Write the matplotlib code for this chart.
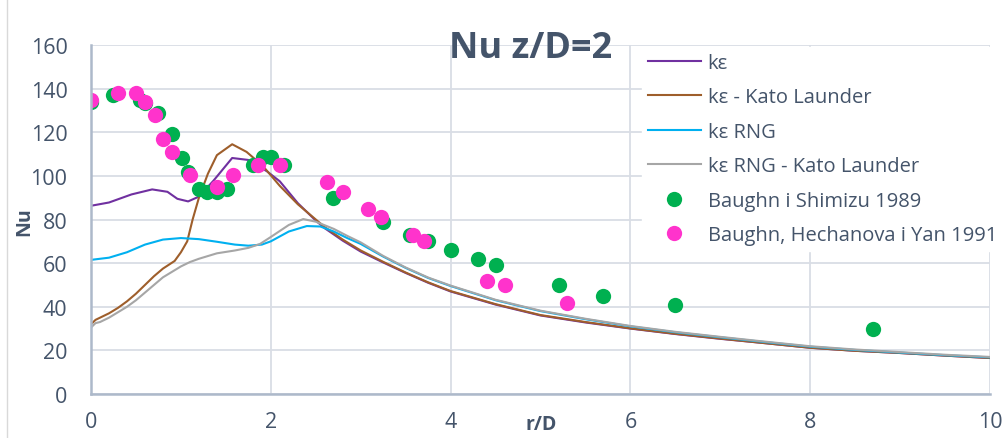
import matplotlib
matplotlib.use('Agg')
import matplotlib.pyplot as plt
from matplotlib.lines import Line2D

plt.rcParams['font.family'] = ['Open Sans', 'DejaVu Sans']

TXT = '#44546A'

# kε
x_ke = [0, 0.2, 0.45, 0.68, 0.85, 0.96, 1.08, 1.2, 1.36, 1.57, 1.75, 1.96, 2.1, 2.3, 2.5,
        2.6, 2.8, 3.0, 3.25, 3.5, 3.75, 4.0, 4.5, 5.0, 5.5, 6.0, 6.5, 7.0, 7.5, 8.0, 8.5, 9.0, 9.5, 10.0]
y_ke = [86.3, 87.8, 91.5, 93.8, 92.7, 89.5, 88.3, 90.5, 97.7, 108.2, 107.3, 102.0, 97.5, 87.5, 79.5,
        76.0, 70.3, 65.3, 60.3, 55.5, 51.0, 47.0, 41.0, 36.0, 32.8, 30.0, 27.5, 25.3, 23.3, 21.2, 19.8, 18.8, 17.6, 16.5]

# kε - Kato Launder
x_kl = [0, 0.05, 0.1, 0.2, 0.3, 0.4, 0.5, 0.6, 0.7, 0.8, 0.93, 1.0, 1.07, 1.13, 1.2, 1.3, 1.4, 1.57,
        1.73, 1.91, 2.1, 2.3, 2.5, 2.6, 2.8, 3.0, 3.25, 3.5, 3.75, 4.0, 4.5, 5.0, 5.5, 6.0, 6.5, 7.0,
        7.5, 8.0, 8.5, 9.0, 9.5, 10.0]
y_kl = [32.0, 34.0, 35.0, 37.0, 39.5, 42.5, 46.0, 50.0, 54.0, 57.5, 61.0, 65.0, 70.0, 80.0, 90.0,
        101.0, 109.5, 114.5, 111.0, 104.6, 95.4, 87.0, 80.0, 76.5, 70.8, 65.8, 60.6, 55.7, 51.2, 47.2,
        41.2, 36.2, 33.0, 30.1, 27.6, 25.4, 23.3, 21.2, 19.8, 18.8, 17.6, 16.5]

# kε RNG
x_rng = [0, 0.2, 0.4, 0.6, 0.8, 1.0, 1.2, 1.4, 1.6, 1.75, 1.9, 2.0, 2.2, 2.4, 2.55, 2.7, 2.85, 3.0,
         3.25, 3.5, 3.75, 4.0, 4.5, 5.0, 5.5, 6.0, 6.5, 7.0, 7.5, 8.0, 8.5, 9.0, 9.5, 10.0]
y_rng = [61.5, 62.5, 65.0, 68.5, 70.8, 71.5, 71.0, 69.8, 68.5, 68.0, 68.5, 70.0, 74.5, 77.0, 76.8,
         74.5, 71.5, 68.8, 63.0, 57.8, 53.2, 49.5, 43.0, 38.0, 34.3, 31.0, 28.3, 26.0, 23.8, 21.7,
         20.2, 19.0, 17.8, 16.8]

# kε RNG - Kato Launder
x_rkl = [0, 0.05, 0.1, 0.2, 0.3, 0.4, 0.5, 0.6, 0.7, 0.8, 0.9, 1.0, 1.1, 1.2, 1.4, 1.6, 1.75, 1.88,
         2.0, 2.2, 2.36, 2.5, 2.7, 2.85, 3.0, 3.25, 3.5, 3.75, 4.0, 4.5, 5.0, 5.5, 6.0, 6.5, 7.0, 7.5,
         8.0, 8.5, 9.0, 9.5, 10.0]
y_rkl = [30.5, 32.5, 33.0, 35.0, 37.5, 40.0, 43.0, 46.5, 50.0, 53.5, 56.0, 58.5, 60.5, 62.0, 64.5,
         65.8, 67.0, 68.8, 72.0, 77.5, 80.2, 79.0, 75.7, 72.5, 69.5, 63.3, 58.0, 53.4, 49.7, 43.2,
         38.2, 34.5, 31.2, 28.5, 26.2, 24.0, 21.9, 20.4, 19.2, 18.0, 17.0]

# Baughn i Shimizu 1989
x_bs = [0, 0.24, 0.54, 0.6, 0.75, 0.9, 1.01, 1.08, 1.2, 1.29, 1.4, 1.51, 1.8, 1.91, 2.0, 2.15,
        2.69, 3.25, 3.55, 3.75, 4.0, 4.3, 4.5, 5.2, 5.7, 6.5, 8.7]
y_bs = [134.0, 137.0, 135.0, 133.5, 129.0, 119.0, 108.0, 102.0, 94.0, 92.5, 92.5, 94.0, 105.0,
        108.5, 108.5, 105.0, 90.0, 79.0, 73.0, 70.0, 66.0, 62.0, 59.0, 50.0, 45.0, 41.0, 30.0]

# Baughn, Hechanova i Yan 1991
x_bhy = [0, 0.3, 0.5, 0.6, 0.71, 0.8, 0.9, 1.1, 1.4, 1.58, 1.86, 2.1, 2.62, 2.8, 3.08, 3.23,
         3.58, 3.7, 4.4, 4.6, 5.3]
y_bhy = [135.0, 138.0, 138.0, 134.0, 128.0, 117.0, 111.0, 100.5, 95.0, 100.5, 105.0, 105.0,
         97.0, 92.5, 85.0, 81.0, 73.0, 70.0, 52.0, 50.0, 41.5]

fig = plt.figure(figsize=(10.06, 4.39), dpi=100)
ax = fig.add_axes([0.0905, 0.1002, 0.8936, 0.795])

ax.plot(x_ke, y_ke, color='#7030A0', lw=1.5, label='kε')
ax.plot(x_kl, y_kl, color='#9E5E2B', lw=1.5, label='kε - Kato Launder')
ax.plot(x_rng, y_rng, color='#00B0F0', lw=1.5, label='kε RNG')
ax.plot(x_rkl, y_rkl, color='#A6A6A6', lw=1.5, label='kε RNG - Kato Launder')
ax.plot(x_bs, y_bs, 'o', color='#00B050', ms=11, mec='none', label='Baughn i Shimizu 1989')
ax.plot(x_bhy, y_bhy, 'o', color='#FF33CC', ms=11, mec='none', label='Baughn, Hechanova i Yan 1991')

ax.set_xlim(0, 10)
ax.set_ylim(0, 160)
ax.set_xticks(range(0, 11, 2))
ax.set_yticks(range(0, 161, 20))
ax.grid(True, color='#D9DDE5', lw=1.3)
ax.set_axisbelow(True)
for s in ['top', 'right']:
    ax.spines[s].set_visible(False)
for s in ['left', 'bottom']:
    ax.spines[s].set_color('#ADB9CA')
    ax.spines[s].set_linewidth(1.8)
ax.tick_params(length=0, labelsize=15.5, labelcolor=TXT)
ax.tick_params(axis='y', pad=17)
ax.tick_params(axis='x', pad=12)

fig.text(0.538, 0.032, 'r/D', fontsize=14, fontweight='bold', color=TXT,
         ha='center', va='center')
fig.text(0.024, 0.495, 'Nu', fontsize=14, fontweight='bold', color=TXT, rotation=90,
         ha='center', va='center')
fig.text(0.527, 0.868, 'Nu z/D=2', fontsize=26, fontweight='bold', color=TXT,
         ha='center', va='baseline')

leg = ax.legend(loc='upper left', bbox_to_anchor=(0.613, 0.995), fontsize=14.5, frameon=True,
                facecolor='white', edgecolor='white', framealpha=1, fancybox=False,
                handlelength=2.6, handletextpad=0.35, labelspacing=0.72, borderpad=0.3,
                borderaxespad=0)
for t in leg.get_texts():
    t.set_color(TXT)

# chart border on the left
fig.add_artist(Line2D([0.007, 0.007], [0, 1], color='#D9D9D9', lw=1))

fig.savefig('out.png', dpi=100)
